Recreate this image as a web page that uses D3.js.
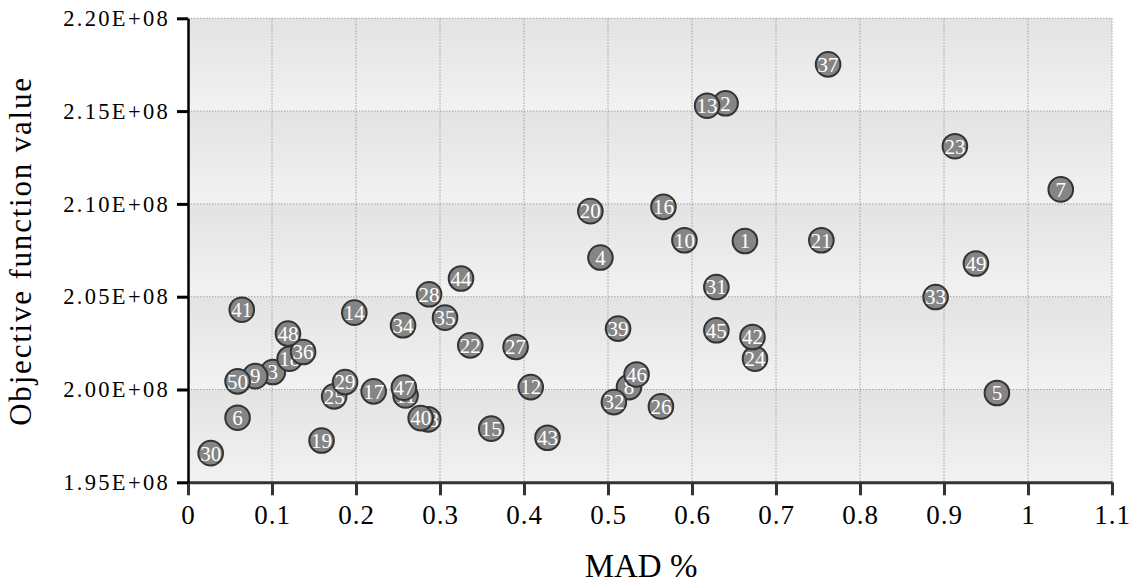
<!DOCTYPE html>
<html>
<head>
<meta charset="utf-8">
<script src="https://cdn.jsdelivr.net/npm/d3@7"></script>
<style>
  body { margin: 0; background: #fff; }
  text { font-family: "Liberation Serif", "DejaVu Serif", serif; }
</style>
</head>
<body>
<svg width="1136" height="585"></svg>
<script>
// run ids, MAD % and objective value
var runIds = [1, 2, 3, 4, 5, 6, 7, 8, 9, 10,
  11, 12, 13, 14, 15, 16, 17, 18, 19, 20,
  21, 22, 23, 24, 25, 26, 27, 28, 29, 30,
  31, 32, 33, 34, 35, 36, 37, 38, 39, 40,
  41, 42, 43, 44, 45, 46, 47, 48, 49, 50]

var madValues = [0.663, 0.640, 0.101, 0.491, 0.963, 0.059, 1.039, 0.525, 0.080, 0.591,
  0.259, 0.408, 0.618, 0.198, 0.361, 0.566, 0.221, 0.121, 0.159, 0.479,
  0.754, 0.336, 0.913, 0.675, 0.174, 0.563, 0.390, 0.287, 0.187, 0.027,
  0.629, 0.507, 0.890, 0.256, 0.306, 0.137, 0.762, 0.286, 0.512, 0.277,
  0.064, 0.672, 0.428, 0.325, 0.629, 0.534, 0.257, 0.119, 0.938, 0.059]

var objValues = [2.0800e8, 2.1542e8, 2.0094e8, 2.0711e8, 1.9981e8, 1.9848e8, 2.1078e8, 2.0013e8, 2.0072e8, 2.0804e8,
  1.9968e8, 2.0013e8, 2.1529e8, 2.0414e8, 1.9789e8, 2.0984e8, 1.9990e8, 2.0166e8, 1.9725e8, 2.0961e8,
  2.0804e8, 2.0238e8, 2.1311e8, 2.0166e8, 1.9963e8, 1.9909e8, 2.0229e8, 2.0513e8, 2.0040e8, 1.9657e8,
  2.0552e8, 1.9932e8, 2.0498e8, 2.0346e8, 2.0387e8, 2.0202e8, 2.1752e8, 1.9839e8, 2.0328e8, 1.9846e8,
  2.0430e8, 2.0283e8, 1.9740e8, 2.0598e8, 2.0319e8, 2.0081e8, 2.0010e8, 2.0301e8, 2.0679e8, 2.0044e8]

var xTicks = [0, 0.1, 0.2, 0.3, 0.4, 0.5, 0.6, 0.7, 0.8, 0.9, 1, 1.1]
var xTickLabels = ["0", "0.1", "0.2", "0.3", "0.4", "0.5", "0.6", "0.7", "0.8", "0.9", "1", "1.1"]
var yTicks = [1.95e8, 2.00e8, 2.05e8, 2.10e8, 2.15e8, 2.20e8]
var yTickLabels = ["1.95E+08", "2.00E+08", "2.05E+08", "2.10E+08", "2.15E+08", "2.20E+08"]

var plotLeft = 188, plotRight = 1112, plotTop = 18.3, plotBottom = 482.3

var svg = d3.select('svg')

var x = d3.scaleLinear().domain([0, 1.1]).range([plotLeft, plotRight])
var y = d3.scaleLinear().domain([1.95e8, 2.20e8]).range([plotBottom, plotTop])

var points = runIds.map(function(d, i) {
  return { id: d, mad: madValues[i], obj: objValues[i] }
})

// shaded bands between horizontal grid lines
var grad = svg.append('defs').append('linearGradient')
  .attr('id', 'band')
  .attr('x1', 0).attr('y1', 0).attr('x2', 0).attr('y2', 1)
grad.append('stop').attr('offset', '0%').attr('stop-color', '#e3e3e3')
grad.append('stop').attr('offset', '100%').attr('stop-color', '#f2f2f2')

svg.append('g').selectAll('rect')
  .data(yTicks.slice(0, -1))
  .enter().append('rect')
  .attr('x', plotLeft)
  .attr('width', plotRight - plotLeft)
  .attr('y', function(d, i) { return y(yTicks[i + 1]) })
  .attr('height', function(d, i) { return y(d) - y(yTicks[i + 1]) })
  .attr('fill', 'url(#band)')

// dotted grid
var grid = svg.append('g')
  .attr('stroke', '#a0a0a0')
  .attr('stroke-width', 1)
  .attr('stroke-dasharray', '1.5,1.5')

grid.selectAll('.vgrid')
  .data(xTicks.slice(1))
  .enter().append('line')
  .attr('class', 'vgrid')
  .attr('x1', function(d) { return x(d) }).attr('x2', function(d) { return x(d) })
  .attr('y1', plotTop).attr('y2', plotBottom)

grid.selectAll('.hgrid')
  .data(yTicks.slice(1))
  .enter().append('line')
  .attr('class', 'hgrid')
  .attr('x1', plotLeft).attr('x2', plotRight)
  .attr('y1', function(d) { return y(d) }).attr('y2', function(d) { return y(d) })

// axes
var xAxis = svg.append('g')
  .attr('transform', 'translate(0,' + plotBottom + ')')
  .call(d3.axisBottom(x)
    .tickValues(xTicks)
    .tickFormat(function(d, i) { return xTickLabels[i] })
    .tickSize(13)
    .tickSizeOuter(0)
    .tickPadding(10))

xAxis.select('.domain').attr('stroke', '#333').attr('stroke-width', 3)
xAxis.selectAll('.tick line').attr('stroke', '#333').attr('stroke-width', 3)
xAxis.selectAll('.tick text')
  .attr('fill', '#000')
  .style('font-family', '"Liberation Serif", serif')
  .style('font-size', '27px')
  .style('letter-spacing', '1px')

var yAxis = svg.append('g')
  .attr('transform', 'translate(' + plotLeft + ',0)')
  .call(d3.axisLeft(y)
    .tickValues(yTicks)
    .tickFormat(function(d, i) { return yTickLabels[i] })
    .tickSize(11)
    .tickSizeOuter(0)
    .tickPadding(7))

yAxis.select('.domain').attr('stroke', '#000').attr('stroke-width', 2.5)
yAxis.selectAll('.tick line').attr('stroke', '#000').attr('stroke-width', 3)
yAxis.selectAll('.tick text')
  .attr('fill', '#000')
  .style('font-family', '"Liberation Serif", serif')
  .style('font-size', '22.5px')
  .style('letter-spacing', '2.3px')

// axis titles
svg.append('text')
  .attr('x', 641)
  .attr('y', 577)
  .attr('text-anchor', 'middle')
  .attr('fill', '#000')
  .style('font-size', '33px')
  .text('MAD %')

svg.append('text')
  .attr('transform', 'translate(31,251) rotate(-90)')
  .attr('text-anchor', 'middle')
  .attr('fill', '#000')
  .style('font-size', '31px')
  .style('letter-spacing', '1.8px')
  .text('Objective function value')

// points with their run number
var node = svg.append('g').selectAll('.node')
  .data(points)
  .enter().append('g')
  .attr('class', 'node')
  .attr('transform', function(d) { return 'translate(' + x(d.mad) + ',' + y(d.obj) + ')' })

node.append('circle')
  .attr('r', 12.3)
  .attr('fill', '#858585')
  .attr('stroke', '#333')
  .attr('stroke-width', 2)

node.append('text')
  .attr('text-anchor', 'middle')
  .attr('dy', '0.35em')
  .attr('fill', '#fff')
  .style('font-size', '21px')
  .text(function(d) { return d.id })
</script>
</body>
</html>
